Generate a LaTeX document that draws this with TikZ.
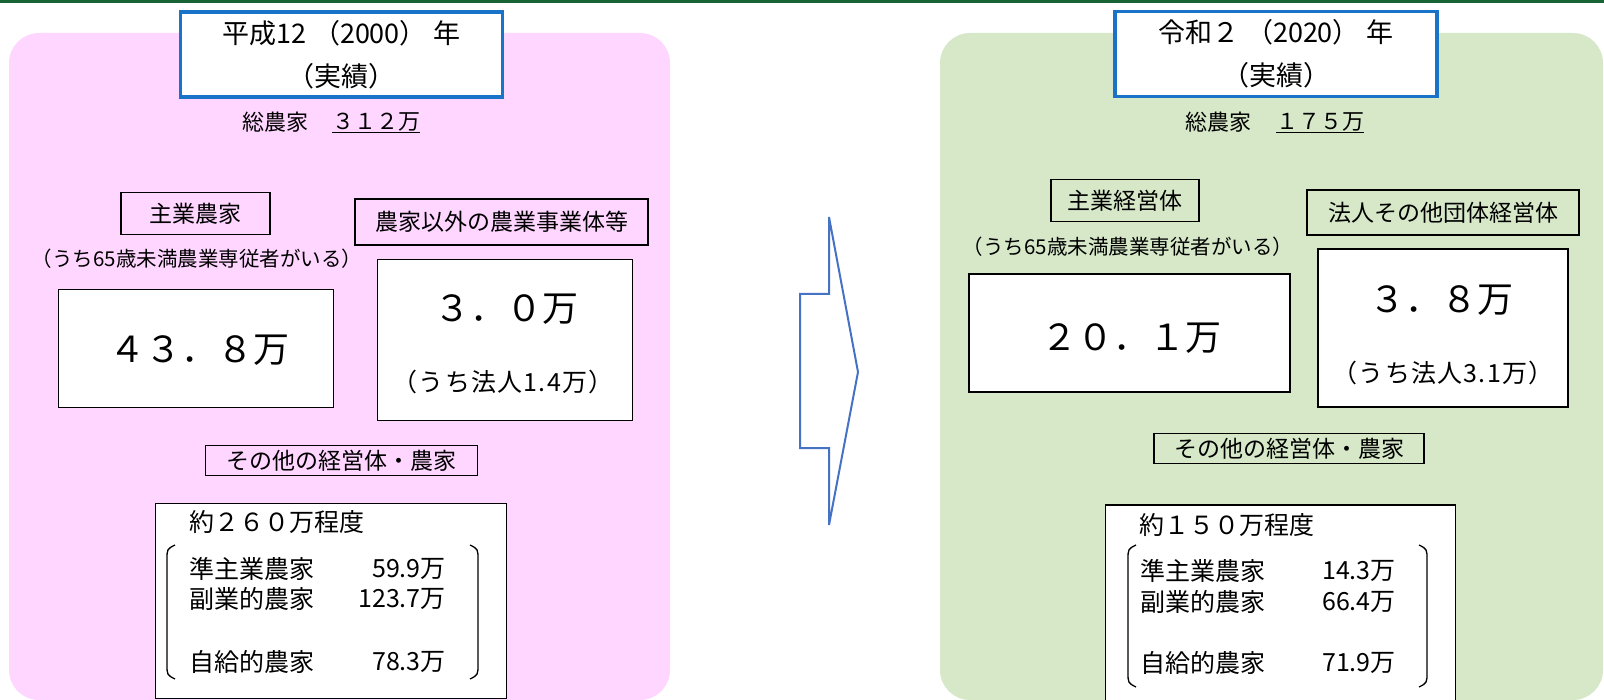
\documentclass[tikz,border=0pt]{standalone}
\usepackage{fontspec}
\setmainfont{Noto Sans CJK JP}
\usepackage{xcolor}
\usepackage{tikz}
\usetikzlibrary{positioning}

\definecolor{panelpink}{RGB}{255,214,255}
\definecolor{panelgreen}{RGB}{214,232,200}
\definecolor{titleblue}{RGB}{25,115,200}
\definecolor{arrowblue}{RGB}{70,114,196}
\definecolor{bandgreen}{RGB}{25,100,55}

\begin{document}
\begin{tikzpicture}[x=1pt,y=-1pt,
	title box/.style={draw=titleblue, line width=3.5pt, fill=white, minimum width=322pt, minimum height=85pt, align=center, inner sep=0pt, font=\fontsize{27}{43}\selectfont},
	head box/.style={draw, line width=1.3pt, minimum height=42pt, inner sep=0pt, font=\fontsize{23}{28}\selectfont},
	count box/.style={draw, line width=1.3pt, fill=white, inner sep=0pt},
	big num/.style={inner sep=0pt, font=\fontsize{36}{42}\selectfont},
	sub num/.style={inner sep=0pt, font=\fontsize{25}{30}\selectfont\addfontfeature{LetterSpace=5}},
	total text/.style={anchor=west, inner sep=0pt, font=\fontsize{22}{26}\selectfont},
	note text/.style={inner sep=0pt, font=\fontsize{20.5}{24}\selectfont},
	row text/.style={inner sep=0pt, font=\fontsize{25}{30}\selectfont}]
	\clip (0,0) rectangle (1604,700);
	
	% Background panels
	\fill[panelpink, rounded corners=30pt] (9,33) rectangle (670,700);
	\fill[panelgreen, rounded corners=30pt] (940,33) rectangle (1603,700);
	\fill[bandgreen] (0,0) rectangle (1604,3);
	
	% Arrow
	\draw[arrowblue, line width=2pt] (829,217) -- (829,294) -- (800,294) -- (800,448) -- (829,448) -- (829,525) -- (858,372) -- cycle;
	
	% Nodes 2000
	\node[title box] (year1) at (341.5,54.5) {平成12 （2000） 年\\（実績）};
	\node[total text] (total1) at (242,122) {総農家};
	\node[total text] (total1num) at (332,122) {３１２万};
	\draw[line width=1.2pt] ([yshift=-3pt]total1num.base west) -- ([yshift=-3pt]total1num.base east);
	
	\node[head box, minimum width=149pt] (main1) at (195.5,213.5) {主業農家};
	\node[head box, minimum width=293pt, minimum height=46pt] (other1) at (501.5,222) {農家以外の農業事業体等};
	\node[note text] (note1) at (197,259) {（うち65歳未満農業専従者がいる）};
	
	\node[count box, minimum width=275pt, minimum height=118pt] (main1box) at (196,348.5) {};
	\node[big num] (main1num) at (199,350) {４３．８万};
	\node[count box, minimum width=255pt, minimum height=161pt] (other1box) at (505,340) {};
	\node[big num] (other1num) at (506,309) {３．０万};
	\node[sub num] (corp1) at (503,382) {（うち法人1.4万）};
	
	\node[head box, minimum width=272pt, minimum height=30pt] (rest1) at (341.5,460.5) {その他の経営体・農家};
	\node[count box, minimum width=351pt, minimum height=195pt] (rest1box) at (331,601) {};
	\node[row text, anchor=west] (rest1sum) at (189,522) {約２６０万程度};
	\node[row text, anchor=west] (semi1) at (189,569) {準主業農家};
	\node[row text, anchor=east] (semi1val) at (446,569) {59.9万};
	\node[row text, anchor=west] (side1) at (189,599) {副業的農家};
	\node[row text, anchor=east] (side1val) at (446,599) {123.7万};
	\node[row text, anchor=west] (self1) at (189,662) {自給的農家};
	\node[row text, anchor=east] (self1val) at (446,662) {78.3万};
	\draw[line width=1.3pt] (175,545) .. controls (167,549) .. (167,560) -- (167,664) .. controls (167,675) .. (175,679);
	\draw[line width=1.3pt] (470,545) .. controls (478,549) .. (478,560) -- (478,664) .. controls (478,675) .. (470,679);
	
	% Nodes 2020
	\node[title box] (year2) at (1276,54) {令和２ （2020） 年\\（実績）};
	\node[total text] (total2) at (1185,122) {総農家};
	\node[total text] (total2num) at (1276,122) {１７５万};
	\draw[line width=1.2pt] ([yshift=-3pt]total2num.base west) -- ([yshift=-3pt]total2num.base east);
	
	\node[head box, minimum width=148pt] (main2) at (1125,200.5) {主業経営体};
	\node[head box, minimum width=272pt, minimum height=45pt] (other2) at (1443,212.5) {法人その他団体経営体};
	\node[note text] (note2) at (1128,247) {（うち65歳未満農業専従者がいる）};
	
	\node[count box, minimum width=321pt, minimum height=118pt] (main2box) at (1129.5,333) {};
	\node[big num] (main2num) at (1131,338) {２０．１万};
	\node[count box, minimum width=250pt, minimum height=158pt] (other2box) at (1443,328) {};
	\node[big num] (other2num) at (1441,300) {３．８万};
	\node[sub num] (corp2) at (1443,373) {（うち法人3.1万）};
	
	\node[head box, minimum width=270pt, minimum height=30pt] (rest2) at (1289,448.5) {その他の経営体・農家};
	\node[count box, minimum width=350pt, minimum height=210pt] (rest2box) at (1280.5,610) {};
	\node[row text, anchor=west] (rest2sum) at (1139,525) {約１５０万程度};
	\node[row text, anchor=west] (semi2) at (1140,571) {準主業農家};
	\node[row text, anchor=east] (semi2val) at (1396,571) {14.3万};
	\node[row text, anchor=west] (side2) at (1140,602) {副業的農家};
	\node[row text, anchor=east] (side2val) at (1396,602) {66.4万};
	\node[row text, anchor=west] (self2) at (1140,663) {自給的農家};
	\node[row text, anchor=east] (self2val) at (1396,663) {71.9万};
	\draw[line width=1.3pt] (1136,545) .. controls (1128,549) .. (1128,560) -- (1128,672) .. controls (1128,683) .. (1136,687);
	\draw[line width=1.3pt] (1419,545) .. controls (1427,549) .. (1427,560) -- (1427,672) .. controls (1427,683) .. (1419,687);
	
\end{tikzpicture}
\end{document}
